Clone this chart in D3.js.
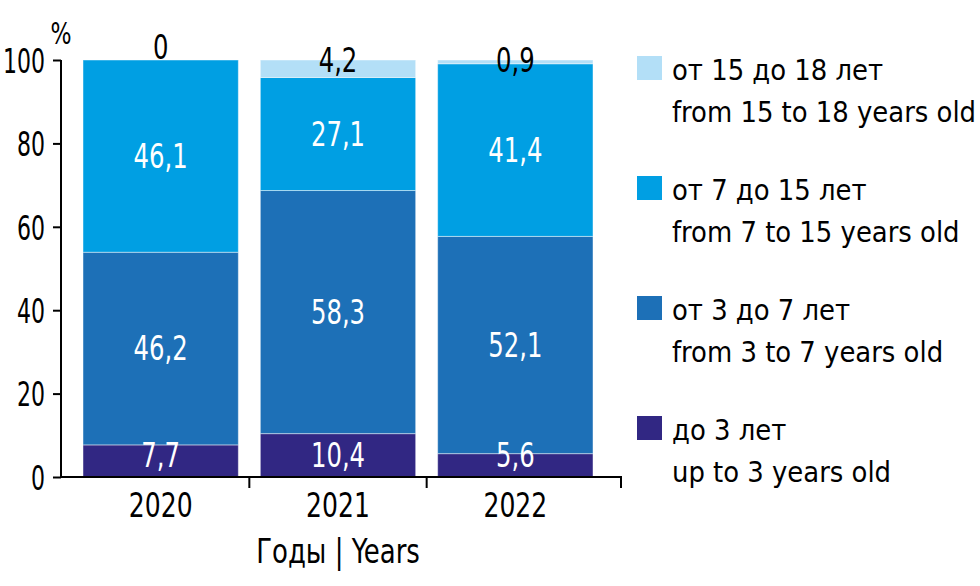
<!DOCTYPE html>
<html>
<head>
<meta charset="utf-8">
<script src="https://cdn.jsdelivr.net/npm/d3@7"></script>
<style>
  html, body { margin: 0; padding: 0; background: #fff; }
  svg { display: block; }
  .num { font-family: "DejaVu Sans Condensed", "DejaVu Sans", sans-serif; }
  .lg { font-family: "DejaVu Sans Condensed", "DejaVu Sans", sans-serif; }
</style>
</head>
<body>
<svg id="chart" width="980" height="586"></svg>
<script>
const years = ["2020", "2021", "2022"];
const seriesKeys = ["under3", "from3to7", "from7to15", "from15to18"];
const under3 = [7.7, 10.4, 5.6];
const from3to7 = [46.2, 58.3, 52.1];
const from7to15 = [46.1, 27.1, 41.4];
const from15to18 = [0, 4.2, 0.9];
const yTicks = [0, 20, 40, 60, 80, 100];
const legendRu = ["от 15 до 18 лет", "от 7 до 15 лет", "от 3 до 7 лет", "до 3 лет"];
const legendEn = ["from 15 to 18 years old", "from 7 to 15 years old", "from 3 to 7 years old", "up to 3 years old"];
const colors = { under3: "#312783", from3to7: "#1d70b7", from7to15: "#009fe3", from15to18: "#b3dff7" };
const legendKeys = ["from15to18", "from7to15", "from3to7", "under3"];
const xTitle = "Годы | Years";

const values = { under3, from3to7, from7to15, from15to18 };
const table = years.map((yr, i) => {
  const row = { year: yr, idx: i };
  seriesKeys.forEach(k => row[k] = values[k][i]);
  return row;
});

const svg = d3.select("#chart");
const x = d3.scaleBand().domain(years).range([83, 593]).paddingInner(0.124).paddingOuter(0);
const y = d3.scaleLinear().domain([0, 100]).range([477, 60]);
const fmt = v => String(v).replace(".", ",");
const SX = 0.82;

const stack = d3.stack().keys(seriesKeys)(table);

// bars
const g = svg.append("g");
stack.forEach(layer => {
  g.selectAll(null).data(layer).enter().append("rect")
    .attr("x", d => x(d.data.year))
    .attr("width", x.bandwidth())
    .attr("y", d => y(d[1]))
    .attr("height", d => y(d[0]) - y(d[1]))
    .attr("fill", colors[layer.key])
    .attr("stroke", "rgba(255,255,255,0.45)")
    .attr("stroke-width", 1);
});

// labels
stack.forEach(layer => {
  const isTop = layer.key === "from15to18";
  g.selectAll(null).data(layer).enter().append("text")
    .attr("class", "num")
    .attr("transform", d => {
      const cx = x(d.data.year) + x.bandwidth() / 2;
      const v = values[layer.key][d.data.idx];
      const cy = isTop ? (v > 0 ? y(100) + 12 : y(100) - 1)
                       : Math.min((y(d[0]) + y(d[1])) / 2, y(0) - 22);
      return `translate(${cx},${cy}) scale(${SX},1)`;
    })
    .attr("dy", isTop ? 0 : "0.36em")
    .attr("text-anchor", "middle")
    .attr("font-size", 33)
    .attr("fill", isTop ? "#000" : "#fff")
    .text(d => fmt(values[layer.key][d.data.idx]));
});

// y axis
const yAxis = d3.axisLeft(y).tickValues(yTicks).tickSize(8).tickPadding(8);
const ya = svg.append("g").attr("transform", "translate(61,0)").call(yAxis);
ya.select(".domain").attr("d", `M0,${y(100)}V${y(0)}`).attr("stroke", "#000").attr("stroke-width", 2);
ya.selectAll(".tick line").attr("stroke", "#000").attr("stroke-width", 2);
ya.selectAll(".tick text").attr("class", "num").attr("font-size", 34).attr("fill", "#000")
  .attr("dy", "0.36em").attr("x", null).attr("transform", `translate(-16,0) scale(0.72,1)`);

svg.append("text").attr("class", "num").attr("transform", `translate(61,44) scale(${SX},1)`)
  .attr("text-anchor", "middle").attr("font-size", 30).text("%");

// x axis
const step = x.step();
const gapHalf = (step - x.bandwidth()) / 2;
const xa = svg.append("g");
xa.append("line").attr("x1", 60).attr("x2", 622).attr("y1", y(0)).attr("y2", y(0))
  .attr("stroke", "#000").attr("stroke-width", 2);
const boundaries = years.slice(0, -1).map(yr => x(yr) + x.bandwidth() + gapHalf).concat([621]);
xa.selectAll(null).data(boundaries).enter().append("line")
  .attr("x1", d => d).attr("x2", d => d)
  .attr("y1", y(0)).attr("y2", y(0) + 11)
  .attr("stroke", "#000").attr("stroke-width", 2);
xa.selectAll(null).data(years).enter().append("text")
  .attr("class", "num")
  .attr("transform", d => `translate(${x(d) + x.bandwidth() / 2},517) scale(${SX},1)`)
  .attr("text-anchor", "middle").attr("font-size", 34).attr("fill", "#000")
  .text(d => d);
svg.append("text").attr("class", "num")
  .attr("transform", `translate(${x("2021") + x.bandwidth() / 2},563) scale(0.85,1)`)
  .attr("text-anchor", "middle").attr("font-size", 34).text(xTitle);

// legend
const lg = svg.append("g");
legendKeys.forEach((k, i) => {
  const top = 56 + i * 120;
  lg.append("rect").attr("x", 637).attr("y", top).attr("width", 25).attr("height", 24)
    .attr("fill", colors[k]);
  lg.append("text").attr("class", "lg").attr("x", 672).attr("y", top + 24)
    .attr("font-size", 28.8).text(legendRu[i]);
  lg.append("text").attr("class", "lg").attr("x", 672).attr("y", top + 66)
    .attr("font-size", 28.8).text(legendEn[i]);
});
</script>
</body>
</html>
